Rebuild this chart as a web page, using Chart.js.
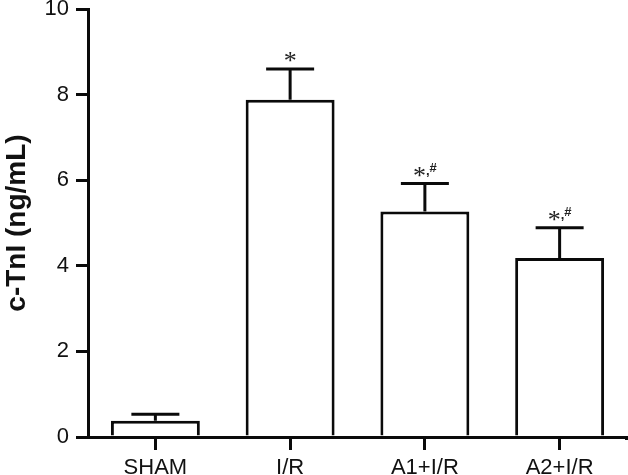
<!DOCTYPE html>
<html><head><meta charset="utf-8">
<script src="https://cdn.jsdelivr.net/npm/chart.js@4"></script>
<style>html,body{margin:0;padding:0;background:#fff}#wrap{width:628px;height:475px}</style>
</head><body><div id="wrap"><canvas id="c" width="628" height="475"></canvas></div>
<script>
const categories = ["SHAM", "I/R", "A1+I/R", "A2+I/R"];
const means = [0.38, 7.88, 5.27, 4.18];
const errors = [0.15, 0.72, 0.65, 0.71];
const marks = ["", "*", "*,#", "*,#"];
const yTicks = [0, 2, 4, 6, 8, 10];
const INK = '#0a0a0a';

const errPlugin = {
  id: 'errbars',
  afterDatasetsDraw(chart) {
    const ctx = chart.ctx, meta = chart.getDatasetMeta(0), y = chart.scales.y;
    ctx.save();
    ctx.strokeStyle = INK; ctx.lineWidth = 3; ctx.lineCap = 'butt';
    meta.data.forEach((bar, i) => {
      const x = bar.x, yTop = y.getPixelForValue(means[i]), yErr = y.getPixelForValue(means[i] + errors[i]);
      ctx.beginPath(); ctx.moveTo(x, yTop); ctx.lineTo(x, yErr); ctx.stroke();
      ctx.beginPath(); ctx.moveTo(x - 24, yErr); ctx.lineTo(x + 24, yErr); ctx.stroke();
      const m = marks[i];
      if (m) {
        const parts = m.split(',');
        const base = yErr - 7;
        ctx.fillStyle = '#222';
        const starFont = '26px "Liberation Serif"';
        const smallFont = 'bold 13px "Liberation Sans"';
        ctx.font = starFont; const wS = ctx.measureText('*').width;
        let wRest = 0;
        if (parts.length > 1) { ctx.font = smallFont; wRest = ctx.measureText(',' + parts[1]).width; }
        let sx = x - (wS + wRest) / 2;
        ctx.textBaseline = 'alphabetic'; ctx.textAlign = 'left';
        ctx.font = starFont; ctx.fillText('*', sx, base + 7);
        if (parts.length > 1) {
          ctx.font = smallFont;
          ctx.fillText(',', sx + wS, base - 2);
          ctx.fillText(parts[1], sx + wS + ctx.measureText(',').width, base - 5);
        }
      }
    });
    const xs = chart.scales.x;
    ctx.beginPath(); ctx.moveTo(xs.right - 2, xs.top + 1.5); ctx.lineTo(chart.width, xs.top + 1.5); ctx.stroke();
    ctx.restore();
  }
};

new Chart(document.getElementById('c'), {
  type: 'bar',
  data: {
    labels: categories,
    datasets: [{
      data: means,
      backgroundColor: '#fff',
      borderColor: INK,
      borderWidth: 3,
      borderSkipped: 'bottom',
      barPercentage: 0.66,
      categoryPercentage: 1.0
    }]
  },
  options: {
    responsive: false,
    animation: false,
    events: [],
    layout: { padding: { left: 0, right: 1, top: 0, bottom: 0 } },
    plugins: { legend: { display: false }, tooltip: { enabled: false } },
    scales: {
      x: {
        offset: true,
        grid: { offset: false, drawOnChartArea: false, drawTicks: true, tickLength: 13, lineWidth: 3, color: INK },
        border: { display: true, width: 3, color: INK },
        ticks: { color: '#111', font: { family: '"Liberation Sans", Arial', size: 22 }, padding: 5, maxRotation: 0 },
        afterFit(s) { s.height = 38; }
      },
      y: {
        min: 0, max: 10,
        afterBuildTicks(s) { s.ticks = yTicks.map(v => ({ value: v })); },
        grid: { drawOnChartArea: false, drawTicks: true, tickLength: 12, lineWidth: 3, color: INK },
        border: { display: true, width: 3, color: INK },
        ticks: { color: '#111', font: { family: '"Liberation Sans", Arial', size: 22 }, padding: 7 },
        title: { display: true, text: 'c-TnI (ng/mL)', color: '#111', font: { family: '"Liberation Sans", Arial', size: 28, weight: 'bold' }, padding: { top: 0, bottom: 0 } },
        afterFit(s) { s.width = 88; s.paddingTop = 9; s.paddingBottom = 0; }
      }
    }
  },
  plugins: [errPlugin]
});
</script></body></html>
